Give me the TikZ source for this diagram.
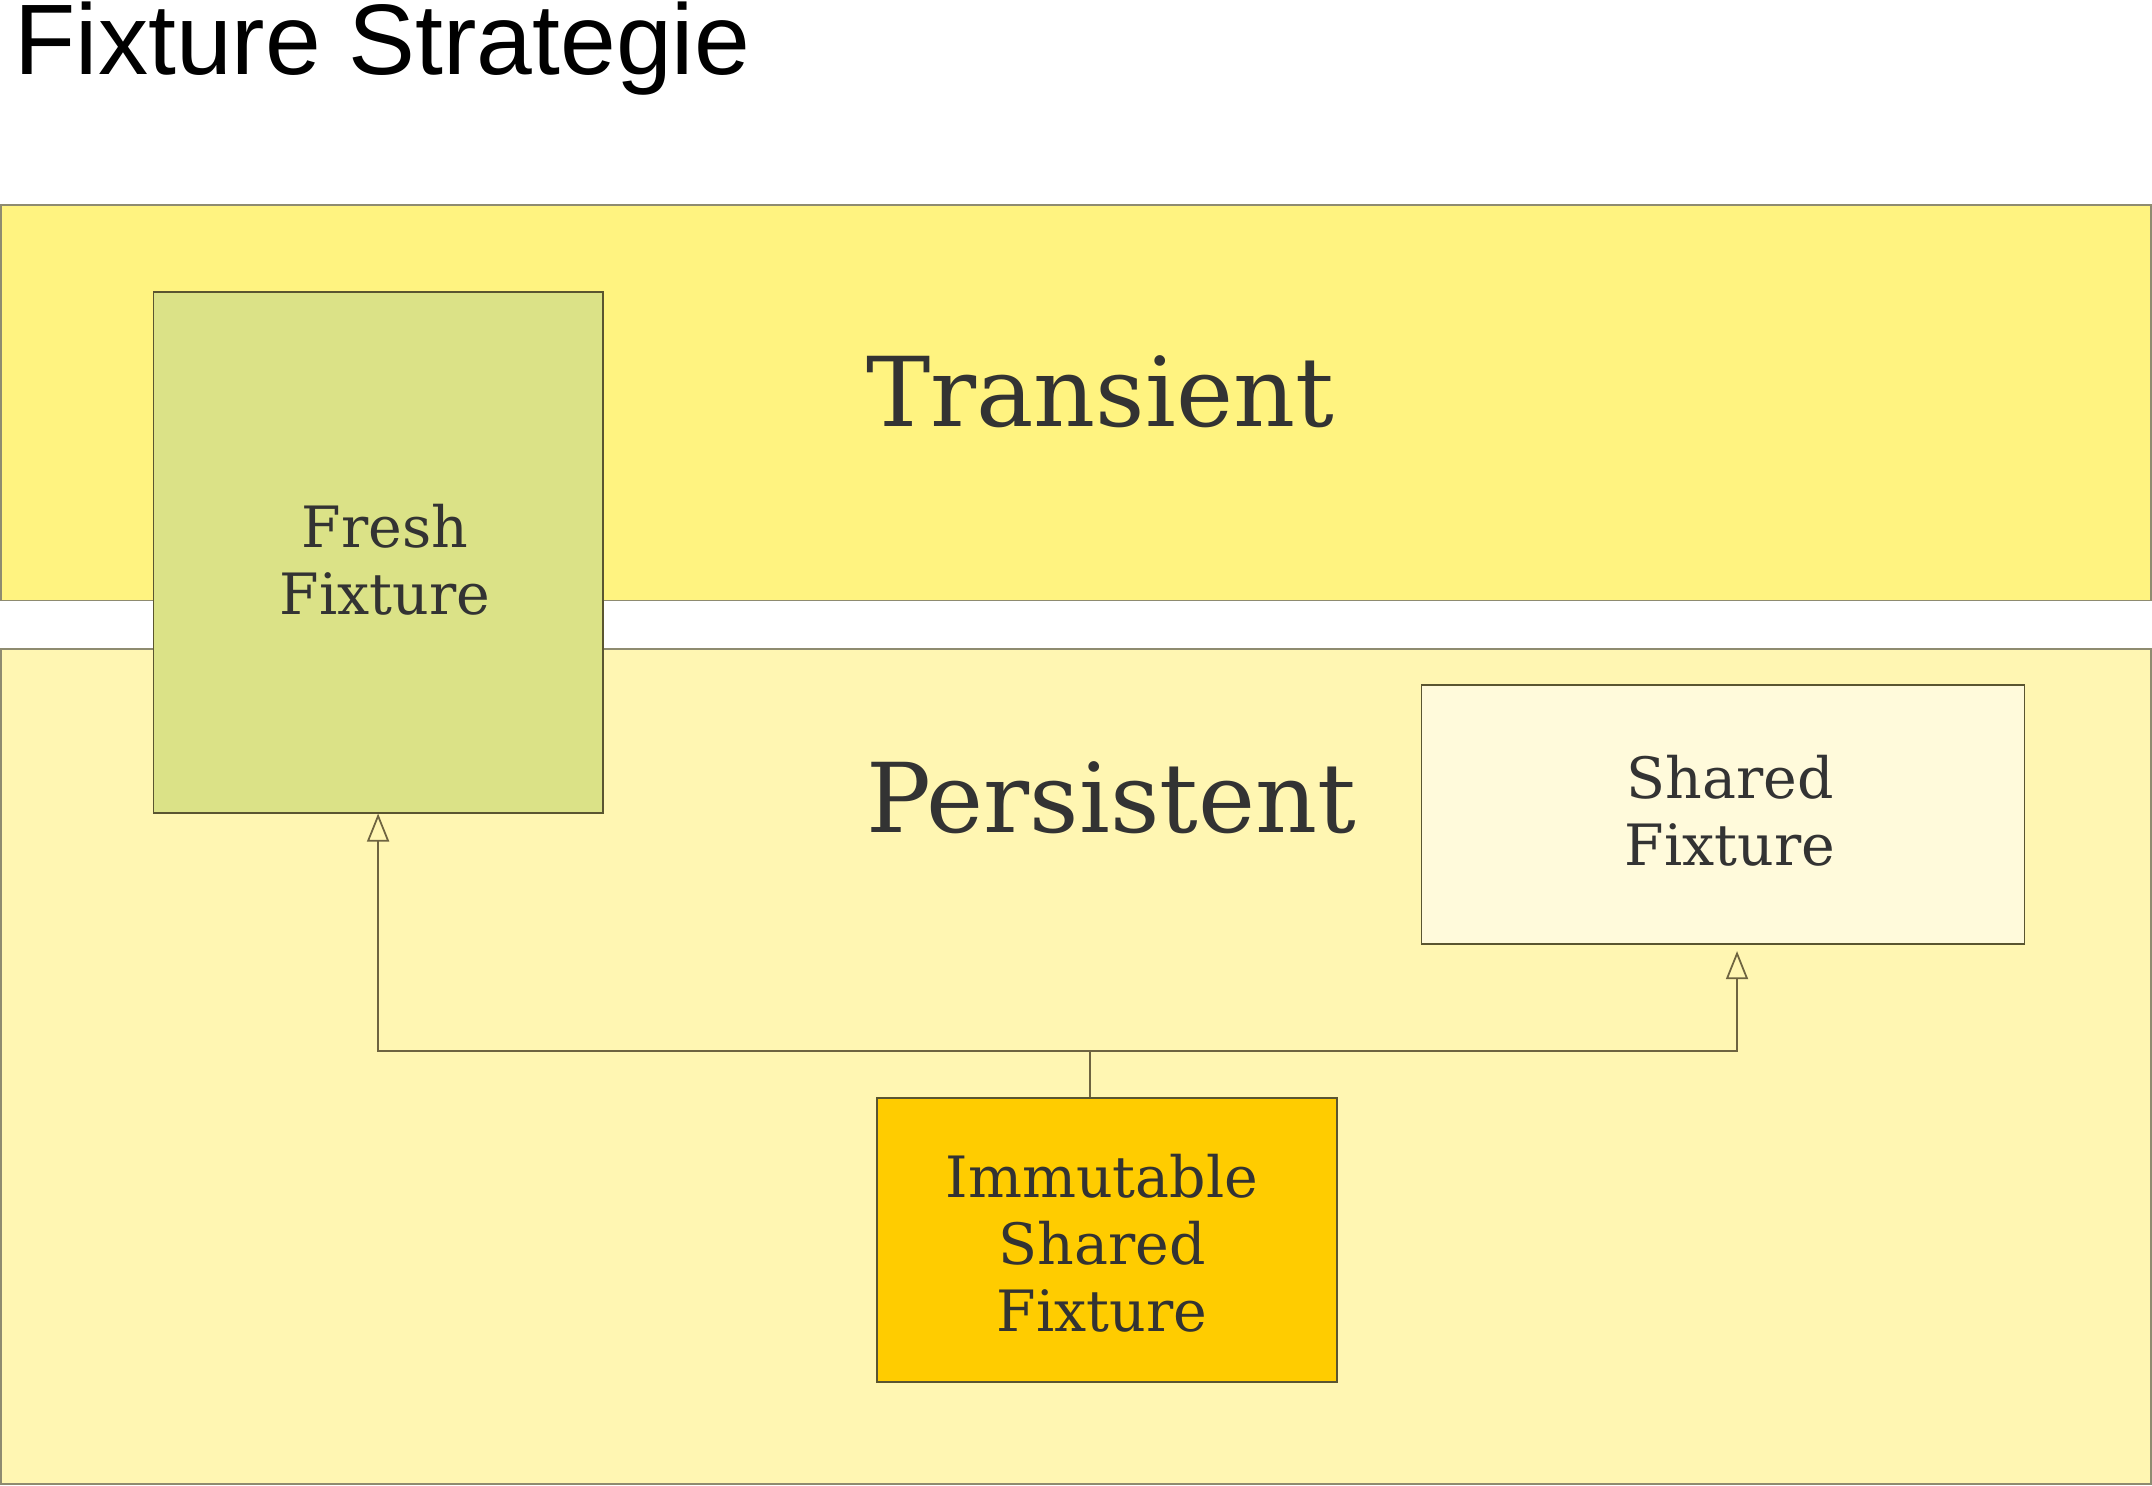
\documentclass[tikz,border=0pt]{standalone}
\usepackage{fontspec}
\setmainfont{Liberation Sans}
\newfontfamily\dvserif{DejaVu Serif}
\usetikzlibrary{arrows.meta,calc}
\definecolor{transfill}{HTML}{FFF380}
\definecolor{persfill}{HTML}{FFF6B2}
\definecolor{freshfill}{HTML}{DBE287}
\definecolor{sharedfill}{HTML}{FFFADB}
\definecolor{immfill}{HTML}{FFCC00}
\definecolor{regionline}{HTML}{8E8B70}
\definecolor{boxline}{HTML}{5A5530}
\definecolor{connline}{HTML}{6E6440}
\definecolor{txt}{HTML}{333333}
\tikzset{
  region/.style={draw=regionline, line width=0.5pt, anchor=north west, inner sep=0pt},
  fixbox/.style={draw=boxline, line width=0.5pt, inner sep=0pt},
  boxtext/.style={inner sep=0pt, align=center, text=txt,
    font={\dvserif\fontsize{16.2}{19}\selectfont}},
  bigtext/.style={inner sep=0pt, anchor=base, text=txt, font={\dvserif\fontsize{27.4}{32}\selectfont}},
  conn/.style={draw=connline, line width=0.5pt},
  openarrow/.style={conn, -{Triangle[open, length=0.28cm, width=0.22cm]}}
}
\begin{document}
\begin{tikzpicture}[x=0.01cm, y=-0.01cm]
\useasboundingbox (0,0) rectangle (2152,1485);
\fill[white] (0,0) rectangle (2152,1485);
% title
\node[anchor=base west, inner sep=0pt, font={\fontsize{28.5}{34}\selectfont}] (title) at (14,75) {Fixture Strategie};
% regions
\node[region, fill=transfill, minimum width=21.49cm, minimum height=3.95cm] (trans) at (0,204.5) {};
\node[region, fill=persfill, minimum width=21.49cm, minimum height=8.345cm] (pers) at (0,647.8) {};
\node[bigtext] (translabel) at (1100,426) {Transient};
\node[bigtext] (perslabel) at (1111,832) {Persistent};
% boxes
\node[fixbox, fill=freshfill, minimum width=4.488cm, minimum height=5.202cm] (fresh) at (378.1,552.4) {};
\node[boxtext] (freshtext) at ([xshift=0.07cm, yshift=-0.07cm]fresh.center) {Fresh\\Fixture};
\node[fixbox, fill=sharedfill, minimum width=6.025cm, minimum height=2.594cm] (shared) at (1723,814.5) {};
\node[boxtext] (sharedtext) at ([xshift=0.07cm, yshift=0.04cm]shared.center) {Shared\\Fixture};
\node[fixbox, fill=immfill, minimum width=4.597cm, minimum height=2.841cm] (imm) at (1107,1240) {};
\node[boxtext] (immtext) at ([xshift=-0.05cm, yshift=-0.03cm]imm.center) {Immutable\\Shared\\Fixture};
% connectors
\coordinate (immtop) at ([xshift=-0.173cm]imm.north);
\coordinate (junc) at (immtop |- 0,1051.3);
\draw[conn] (immtop) -- (junc);
\draw[openarrow] (junc) -| (fresh.south);
\draw[openarrow] (junc) -| ([xshift=0.14cm, yshift=-0.06cm]shared.south);
\end{tikzpicture}
\end{document}
